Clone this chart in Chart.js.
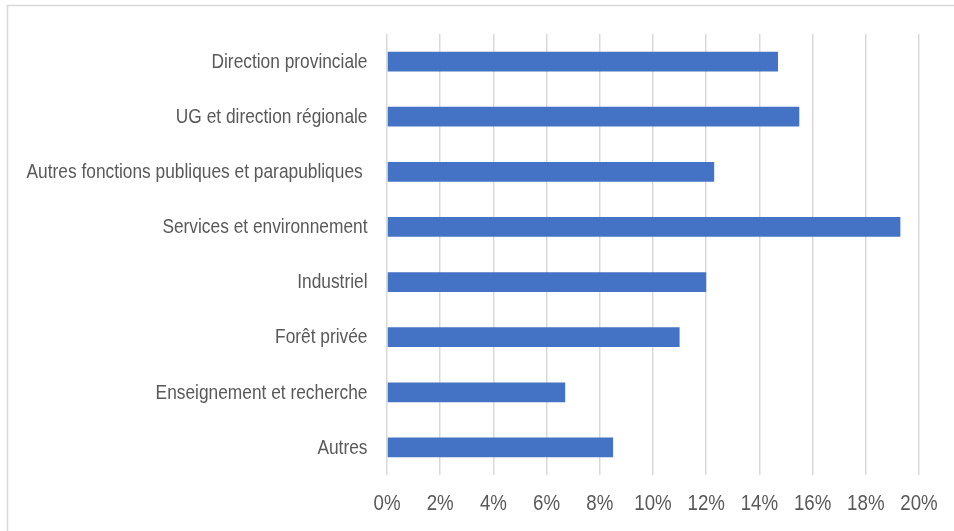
<!DOCTYPE html>
<html lang="fr">
<head>
<meta charset="utf-8">
<title>Répartition par secteur</title>
<script src="https://cdn.jsdelivr.net/npm/chart.js@4/dist/chart.umd.min.js"></script>
<style>
  html, body { margin: 0; padding: 0; background: #ffffff; }
  #wrap { position: relative; width: 954px; height: 531px; }
</style>
</head>
<body>
<div id="wrap"><canvas id="chart" width="954" height="531"></canvas></div>
<script>
// Secteurs d'emploi et part (%) de chacun
const categories = [
  'Direction provinciale',
  'UG et direction régionale',
  'Autres fonctions publiques et parapubliques ',
  'Services et environnement',
  'Industriel',
  'Forêt privée',
  'Enseignement et recherche',
  'Autres'
];
const shares = [14.7, 15.5, 12.3, 19.3, 12.0, 11.0, 6.7, 8.5];
const xTicks = [0, 2, 4, 6, 8, 10, 12, 14, 16, 18, 20];

const FONT = "'Liberation Sans', Arial, sans-serif";
const TEXT = '#595959';
const GRID = '#d9d9d9';

// Cadre gris clair (haut et gauche) autour de la zone du graphique
const framePlugin = {
  id: 'frame',
  beforeDraw(chart) {
    const ctx = chart.ctx;
    ctx.save();
    ctx.strokeStyle = GRID;
    ctx.lineWidth = 1.5;
    ctx.beginPath();
    ctx.moveTo(7.5, chart.height);
    ctx.lineTo(7.5, 5.5);
    ctx.lineTo(chart.width, 5.5);
    ctx.stroke();
    ctx.restore();
  }
};

// Étiquettes des axes en police condensée (étirement horizontal réduit)
function drawCondensed(ctx, text, x, y, size, squeeze, align) {
  ctx.save();
  ctx.font = size + 'px ' + FONT;
  ctx.fillStyle = TEXT;
  ctx.textAlign = align;
  ctx.textBaseline = 'middle';
  ctx.translate(x, y);
  ctx.scale(squeeze, 1);
  ctx.fillText(text, 0, 0);
  ctx.restore();
}

const condensedLabels = {
  id: 'condensedLabels',
  afterDraw(chart) {
    const ctx = chart.ctx;
    const ys = chart.scales.y;
    const xs = chart.scales.x;
    ys.ticks.forEach((t, i) => {
      const label = chart.data.labels[t.value];
      drawCondensed(ctx, label, ys.right - 19.5, ys.getPixelForTick(i) + 0.5, 21, 0.825, 'right');
    });
    xs.ticks.forEach((t, i) => {
      drawCondensed(ctx, t.value + '%', xs.getPixelForTick(i), xs.top + 29, 22, 0.85, 'center');
    });
  }
};

new Chart(document.getElementById('chart'), {
  type: 'bar',
  data: {
    labels: categories,
    datasets: [{
      data: shares,
      backgroundColor: '#4472c4',
      borderWidth: 0,
      categoryPercentage: 1,
      barPercentage: 0.36
    }]
  },
  options: {
    indexAxis: 'y',
    responsive: false,
    animation: false,
    layout: { padding: { top: 34, right: 35, bottom: 0, left: 0 } },
    plugins: {
      legend: { display: false },
      tooltip: { enabled: false }
    },
    scales: {
      x: {
        min: 0,
        max: 20,
        afterBuildTicks(axis) { axis.ticks = xTicks.map(v => ({ value: v })); },
        afterFit(axis) { axis.height = 56; },
        grid: { color: GRID, lineWidth: 1.5, drawTicks: false },
        border: { display: false },
        ticks: { display: false }
      },
      y: {
        afterFit(axis) { axis.width = 387; },
        grid: { display: false },
        border: { display: false },
        ticks: { display: false }
      }
    }
  },
  plugins: [framePlugin, condensedLabels]
});
</script>
</body>
</html>
